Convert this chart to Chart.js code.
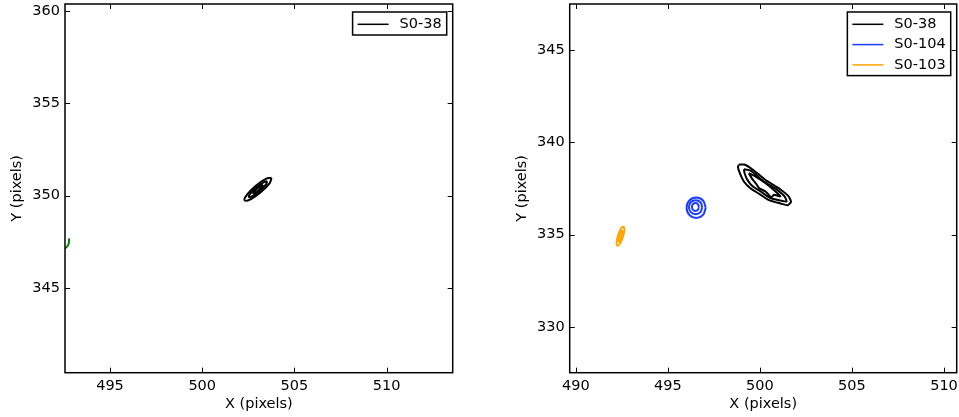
<!DOCTYPE html>
<html>
<head>
<meta charset="utf-8">
<script src="https://cdn.jsdelivr.net/npm/chart.js@4.4.1/dist/chart.umd.min.js"></script>
<style>
  html, body { margin: 0; padding: 0; background: #fff; }
  #wrap { position: relative; width: 959px; height: 417px; }
  canvas { position: absolute; top: 0; }
  #left { left: 0; }
  #right { left: 480px; }
</style>
</head>
<body>
<div id="wrap">
  <canvas id="left" width="480" height="417"></canvas>
  <canvas id="right" width="479" height="417"></canvas>
</div>
<script>
// axis limits and tick labels
const leftXRange = [492.56, 513.58];
const leftYRange = [340.4, 360.38];
const rightXRange = [489.67, 510.69];
const rightYRange = [327.52, 347.5];
const leftXTicks = [495, 500, 505, 510];
const leftYTicks = [345, 350, 355, 360];
const rightXTicks = [490, 495, 500, 505, 510];
const rightYTicks = [330, 335, 340, 345];

// contour paths [x, y]
const leftS038Outer = [[503.76, 350.96], [503.45, 350.90], [502.89, 350.52], [502.42, 350.04], [502.30, 349.74], [502.62, 349.80], [503.17, 350.18], [503.65, 350.66], [503.76, 350.96]];
const leftS038Mid = [[503.53, 350.77], [503.32, 350.72], [502.95, 350.45], [502.62, 350.12], [502.53, 349.93], [502.74, 349.98], [503.11, 350.25], [503.44, 350.58], [503.53, 350.77]];
const leftS038Inner = [[503.30, 350.58], [503.19, 350.54], [502.99, 350.40], [502.81, 350.22], [502.76, 350.13], [502.87, 350.16], [503.07, 350.30], [503.25, 350.48], [503.30, 350.58]];
const leftGreenEdge = [[492.78, 347.68], [492.77, 347.45], [492.72, 347.30], [492.62, 347.18], [492.50, 347.12]];

const rightS038Outer = [[498.86, 338.80], [499.16, 338.80], [499.62, 338.52], [500.40, 337.90], [501.12, 337.45], [501.54, 337.10], [501.69, 336.79], [501.52, 336.60], [501.12, 336.69], [500.49, 336.87], [499.95, 337.22], [499.50, 337.50], [499.13, 337.88], [498.91, 338.33], [498.81, 338.66], [498.86, 338.80]];
const rightS038Mid = [[499.13, 338.55], [499.50, 338.47], [500.22, 337.88], [500.94, 337.43], [501.34, 337.07], [501.45, 336.79], [501.12, 336.85], [500.58, 336.98], [500.04, 337.34], [499.59, 337.64], [499.32, 337.97], [499.17, 338.33], [499.13, 338.55]];
const rightS038Inner = [[499.40, 338.33], [499.77, 338.15], [500.31, 337.79], [500.85, 337.34], [501.12, 337.07], [500.76, 337.16], [500.62, 337.02], [500.31, 337.34], [499.95, 337.52], [499.86, 337.66], [499.77, 337.79], [499.59, 338.01], [499.40, 338.33]];
const rightS0104Outer = [[497.06, 336.46], [496.91, 336.85], [496.54, 337.01], [496.17, 336.85], [496.02, 336.46], [496.17, 336.07], [496.54, 335.91], [496.91, 336.07], [497.06, 336.46]];
const rightS0104Mid = [[496.87, 336.49], [496.77, 336.76], [496.51, 336.87], [496.25, 336.76], [496.15, 336.49], [496.25, 336.22], [496.51, 336.11], [496.77, 336.22], [496.87, 336.49]];
const rightS0104Inner = [[496.69, 336.50], [496.63, 336.66], [496.50, 336.72], [496.37, 336.66], [496.31, 336.50], [496.37, 336.34], [496.50, 336.28], [496.63, 336.34], [496.69, 336.50]];
const rightS0103Outer = [[492.59, 335.46], [492.45, 335.33], [492.30, 334.97], [492.22, 334.59], [492.27, 334.40], [492.41, 334.53], [492.56, 334.89], [492.64, 335.27], [492.59, 335.46]];
const rightS0103Inner = [[492.53, 335.25], [492.46, 335.17], [492.37, 334.95], [492.32, 334.72], [492.33, 334.62], [492.40, 334.70], [492.49, 334.91], [492.54, 335.14], [492.53, 335.25]];

const BLACK = '#000000';
const BLUE = '#1a3cff';
const ORANGE = '#ffa500';
const GREEN = '#008000';

Chart.defaults.font.family = 'DejaVu Sans';
Chart.defaults.font.size = 14.5;
Chart.defaults.color = '#000';

function contour(label, data, color, tension) {
  return {
    label: label,
    data: data,
    borderColor: color,
    backgroundColor: color,
    borderWidth: 2,
    pointRadius: 0,
    showLine: true,
    fill: false,
    tension: tension
  };
}

// box round the plot plus inward ticks on all four sides
const frameTicks = {
  id: 'frameTicks',
  afterDatasetsDraw(chart) {
    const { ctx, chartArea: a, scales: { x, y } } = chart;
    ctx.save();
    ctx.strokeStyle = '#000';
    ctx.lineWidth = 1;
    ctx.beginPath();
    x.ticks.forEach(t => {
      const px = Math.round(x.getPixelForValue(t.value)) + 0.5;
      ctx.moveTo(px, a.bottom); ctx.lineTo(px, a.bottom - 5);
      ctx.moveTo(px, a.top); ctx.lineTo(px, a.top + 5);
    });
    y.ticks.forEach(t => {
      const py = Math.round(y.getPixelForValue(t.value)) + 0.5;
      ctx.moveTo(a.left, py); ctx.lineTo(a.left + 5, py);
      ctx.moveTo(a.right, py); ctx.lineTo(a.right - 5, py);
    });
    ctx.stroke();
    ctx.lineWidth = 1.5;
    ctx.strokeRect(a.left, a.top, a.right - a.left, a.bottom - a.top);
    ctx.restore();
  }
};

// matplotlib-like legend inside the upper right corner
const boxLegend = {
  id: 'boxLegend',
  afterDraw(chart) {
    const { ctx, chartArea: a } = chart;
    const seen = [];
    chart.data.datasets.forEach(ds => {
      if (ds.label && !seen.find(s => s.label === ds.label)) seen.push(ds);
    });
    if (!seen.length) return;
    ctx.save();
    ctx.font = '14.5px "DejaVu Sans"';
    const textW = Math.max(...seen.map(s => ctx.measureText(s.label).width));
    const w = 5 + 31 + 11 + textW + 5;
    const h = 23 + (seen.length - 1) * 20.3;
    const left = a.right - 6 - w;
    const top = a.top + 8;
    ctx.fillStyle = '#fff';
    ctx.fillRect(left, top, w, h);
    ctx.strokeStyle = '#000';
    ctx.lineWidth = 1.5;
    ctx.strokeRect(left, top, w, h);
    ctx.textBaseline = 'middle';
    seen.forEach((s, i) => {
      const cy = top + 12.3 + i * 20.3;
      ctx.strokeStyle = s.borderColor;
      ctx.lineWidth = 1.5;
      ctx.beginPath();
      ctx.moveTo(left + 5, cy);
      ctx.lineTo(left + 36, cy);
      ctx.stroke();
      ctx.fillStyle = '#000';
      ctx.fillText(s.label, left + 47, cy);
    });
    ctx.restore();
  }
};

function axes(xRange, yRange, xTicks, yTicks, yWidth, yTitlePad) {
  return {
    x: {
      type: 'linear',
      min: xRange[0],
      max: xRange[1],
      grid: { display: false, drawTicks: false },
      border: { display: false },
      ticks: { padding: 5, maxRotation: 0 },
      afterBuildTicks: s => { s.ticks = xTicks.map(v => ({ value: v })); },
      afterFit: s => { s.height = 44.3; s.paddingLeft = 0; s.paddingRight = 0; },
      title: { display: true, text: 'X (pixels)', padding: { top: 0, bottom: 4 } }
    },
    y: {
      type: 'linear',
      min: yRange[0],
      max: yRange[1],
      grid: { display: false, drawTicks: false },
      border: { display: false },
      ticks: { padding: 5 },
      afterBuildTicks: s => { s.ticks = yTicks.map(v => ({ value: v })); },
      afterFit: s => { s.width = yWidth; s.paddingTop = 0; s.paddingBottom = 0; },
      title: { display: true, text: 'Y (pixels)', padding: { top: yTitlePad, bottom: 0 } }
    }
  };
}

// Left panel: S0-38 only
new Chart(document.getElementById('left'), {
  type: 'scatter',
  data: {
    datasets: [
      contour('S0-38', leftS038Outer, BLACK, 0.4),
      contour('S0-38', leftS038Mid, BLACK, 0.4),
      contour('S0-38', leftS038Inner, BLACK, 0.4),
      contour('', leftGreenEdge, GREEN, 0.3)
    ]
  },
  options: {
    responsive: false,
    animation: false,
    layout: { padding: { left: 0, right: 27.3, top: 4, bottom: 0 } },
    plugins: { legend: { display: false }, tooltip: { enabled: false } },
    scales: axes(leftXRange, leftYRange, leftXTicks, leftYTicks, 65, 9)
  },
  plugins: [frameTicks, boxLegend]
});

// Right panel: S0-38, S0-104, S0-103
new Chart(document.getElementById('right'), {
  type: 'scatter',
  data: {
    datasets: [
      contour('S0-38', rightS038Outer, BLACK, 0.2),
      contour('S0-38', rightS038Mid, BLACK, 0.2),
      contour('S0-38', rightS038Inner, BLACK, 0.1),
      contour('S0-104', rightS0104Outer, BLUE, 0.4),
      contour('S0-104', rightS0104Mid, BLUE, 0.4),
      contour('S0-104', rightS0104Inner, BLUE, 0.4),
      contour('S0-103', rightS0103Outer, ORANGE, 0.4),
      contour('S0-103', rightS0103Inner, ORANGE, 0.4)
    ]
  },
  options: {
    responsive: false,
    animation: false,
    layout: { padding: { left: 0, right: 2.3, top: 4, bottom: 0 } },
    plugins: { legend: { display: false }, tooltip: { enabled: false } },
    scales: axes(rightXRange, rightYRange, rightXTicks, rightYTicks, 89.7, 34)
  },
  plugins: [frameTicks, boxLegend]
});
</script>
</body>
</html>
